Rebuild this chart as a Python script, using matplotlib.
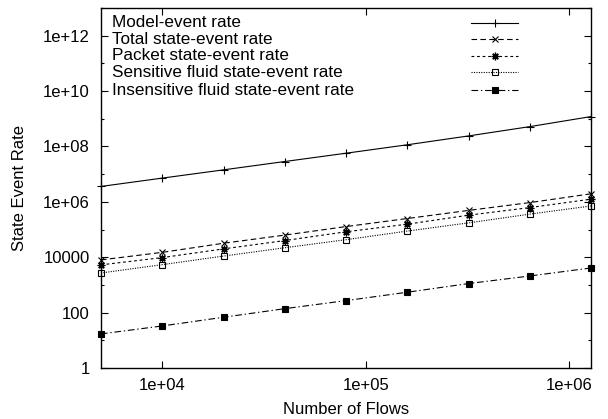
import matplotlib
matplotlib.use("Agg")
import matplotlib.pyplot as plt
from matplotlib.ticker import FixedLocator, FuncFormatter, NullLocator, NullFormatter

plt.rcParams["font.family"] = ["Liberation Sans", "DejaVu Sans"]

# data (log-log)
flows = [5000, 10000, 20000, 40000, 80000, 160000, 320000, 640000, 1280000]
model_rate = [3.6e6, 7.2e6, 1.43e7, 2.86e7, 5.7e7, 1.15e8, 2.4e8, 5.2e8, 1.2e9]
total_rate = [8.0e3, 1.5e4, 3.2e4, 6.3e4, 1.28e5, 2.5e5, 4.9e5, 9.4e5, 1.95e6]
packet_rate = [5.3e3, 9.7e3, 2.0e4, 4.0e4, 8.3e4, 1.56e5, 3.3e5, 6.2e5, 1.25e6]
sensitive_rate = [2.7e3, 5.4e3, 1.1e4, 2.2e4, 4.3e4, 8.8e4, 1.74e5, 3.6e5, 7.1e5]
insensitive_rate = [17, 33, 68, 139, 271, 545, 1120, 2100, 4100]

labels = [
    "Model-event rate",
    "Total state-event rate",
    "Packet state-event rate",
    "Sensitive fluid state-event rate",
    "Insensitive fluid state-event rate",
]

styles = [
    dict(ls="-", marker="+", ms=6, mew=0.8),
    dict(ls=(0, (5, 3)), marker="x", ms=4.5, mew=0.8),
    dict(ls=(0, (2.5, 2.5)), marker=(8, 2, 0), ms=5.5, mew=0.9),
    dict(ls=(0, (1, 1.2)), marker="s", ms=5, mew=0.8, mfc="none"),
    dict(ls=(0, (6, 2.5, 1.2, 2.5)), marker="s", ms=5, mew=0.8),
]

fig = plt.figure(figsize=(6.08, 4.19), dpi=100)
ax = fig.add_axes([101 / 608, 51 / 419, 490 / 608, 360 / 419])

series = [model_rate, total_rate, packet_rate, sensitive_rate, insensitive_rate]
for vals, st in zip(series, styles):
    ax.plot(flows, vals, color="black", lw=0.8, clip_on=False, **st)

ax.set_xscale("log")
ax.set_yscale("log")
ax.set_xlim(5000, 1.28e6)
ax.set_ylim(1, 1e13)

ax.xaxis.set_major_locator(FixedLocator([1e4, 1e5, 1e6]))
ax.xaxis.set_minor_locator(NullLocator())
ax.xaxis.set_major_formatter(FuncFormatter(lambda v, p: f"{v:.0e}"))
ax.yaxis.set_major_locator(FixedLocator([10.0 ** k for k in range(0, 14, 2)]))
ax.yaxis.set_minor_locator(FixedLocator([10.0 ** k for k in range(1, 14, 2)]))
ax.yaxis.set_major_formatter(FuncFormatter(lambda v, p: f"{v:g}"))
ax.yaxis.set_minor_formatter(NullFormatter())

ax.tick_params(which="both", direction="in", top=True, right=True,
               labelsize=12, width=0.8)
ax.tick_params(axis="y", pad=8)
ax.tick_params(axis="x", pad=7)
ax.tick_params(which="major", length=5)
ax.tick_params(which="minor", length=2.5)
for sp in ax.spines.values():
    sp.set_linewidth(1.0)

ax.set_xlabel("Number of Flows", fontsize=12)
ax.set_ylabel("State Event Rate", fontsize=12)
ax.xaxis.set_label_coords(0.5, -0.095)
ax.yaxis.set_label_coords(-0.151, 0.5)

# gnuplot-style key: text left, samples on the right
row_y = [0.959, 0.913, 0.867, 0.821, 0.771]
for lab, st, yy in zip(labels, styles, row_y):
    ax.text(0.0224, yy, lab, transform=ax.transAxes, fontsize=12.3,
            ha="left", va="center")
    line_st = {k: v for k, v in st.items() if k not in ("marker", "ms", "mew", "mfc")}
    ax.plot([0.755, 0.851], [yy, yy], transform=ax.transAxes, color="black",
            lw=0.8, **line_st)
    mark_st = {k: v for k, v in st.items() if k != "ls"}
    ax.plot([0.804], [yy], transform=ax.transAxes, color="black", ls="none",
            **mark_st)

fig.savefig("out.png", dpi=100)
